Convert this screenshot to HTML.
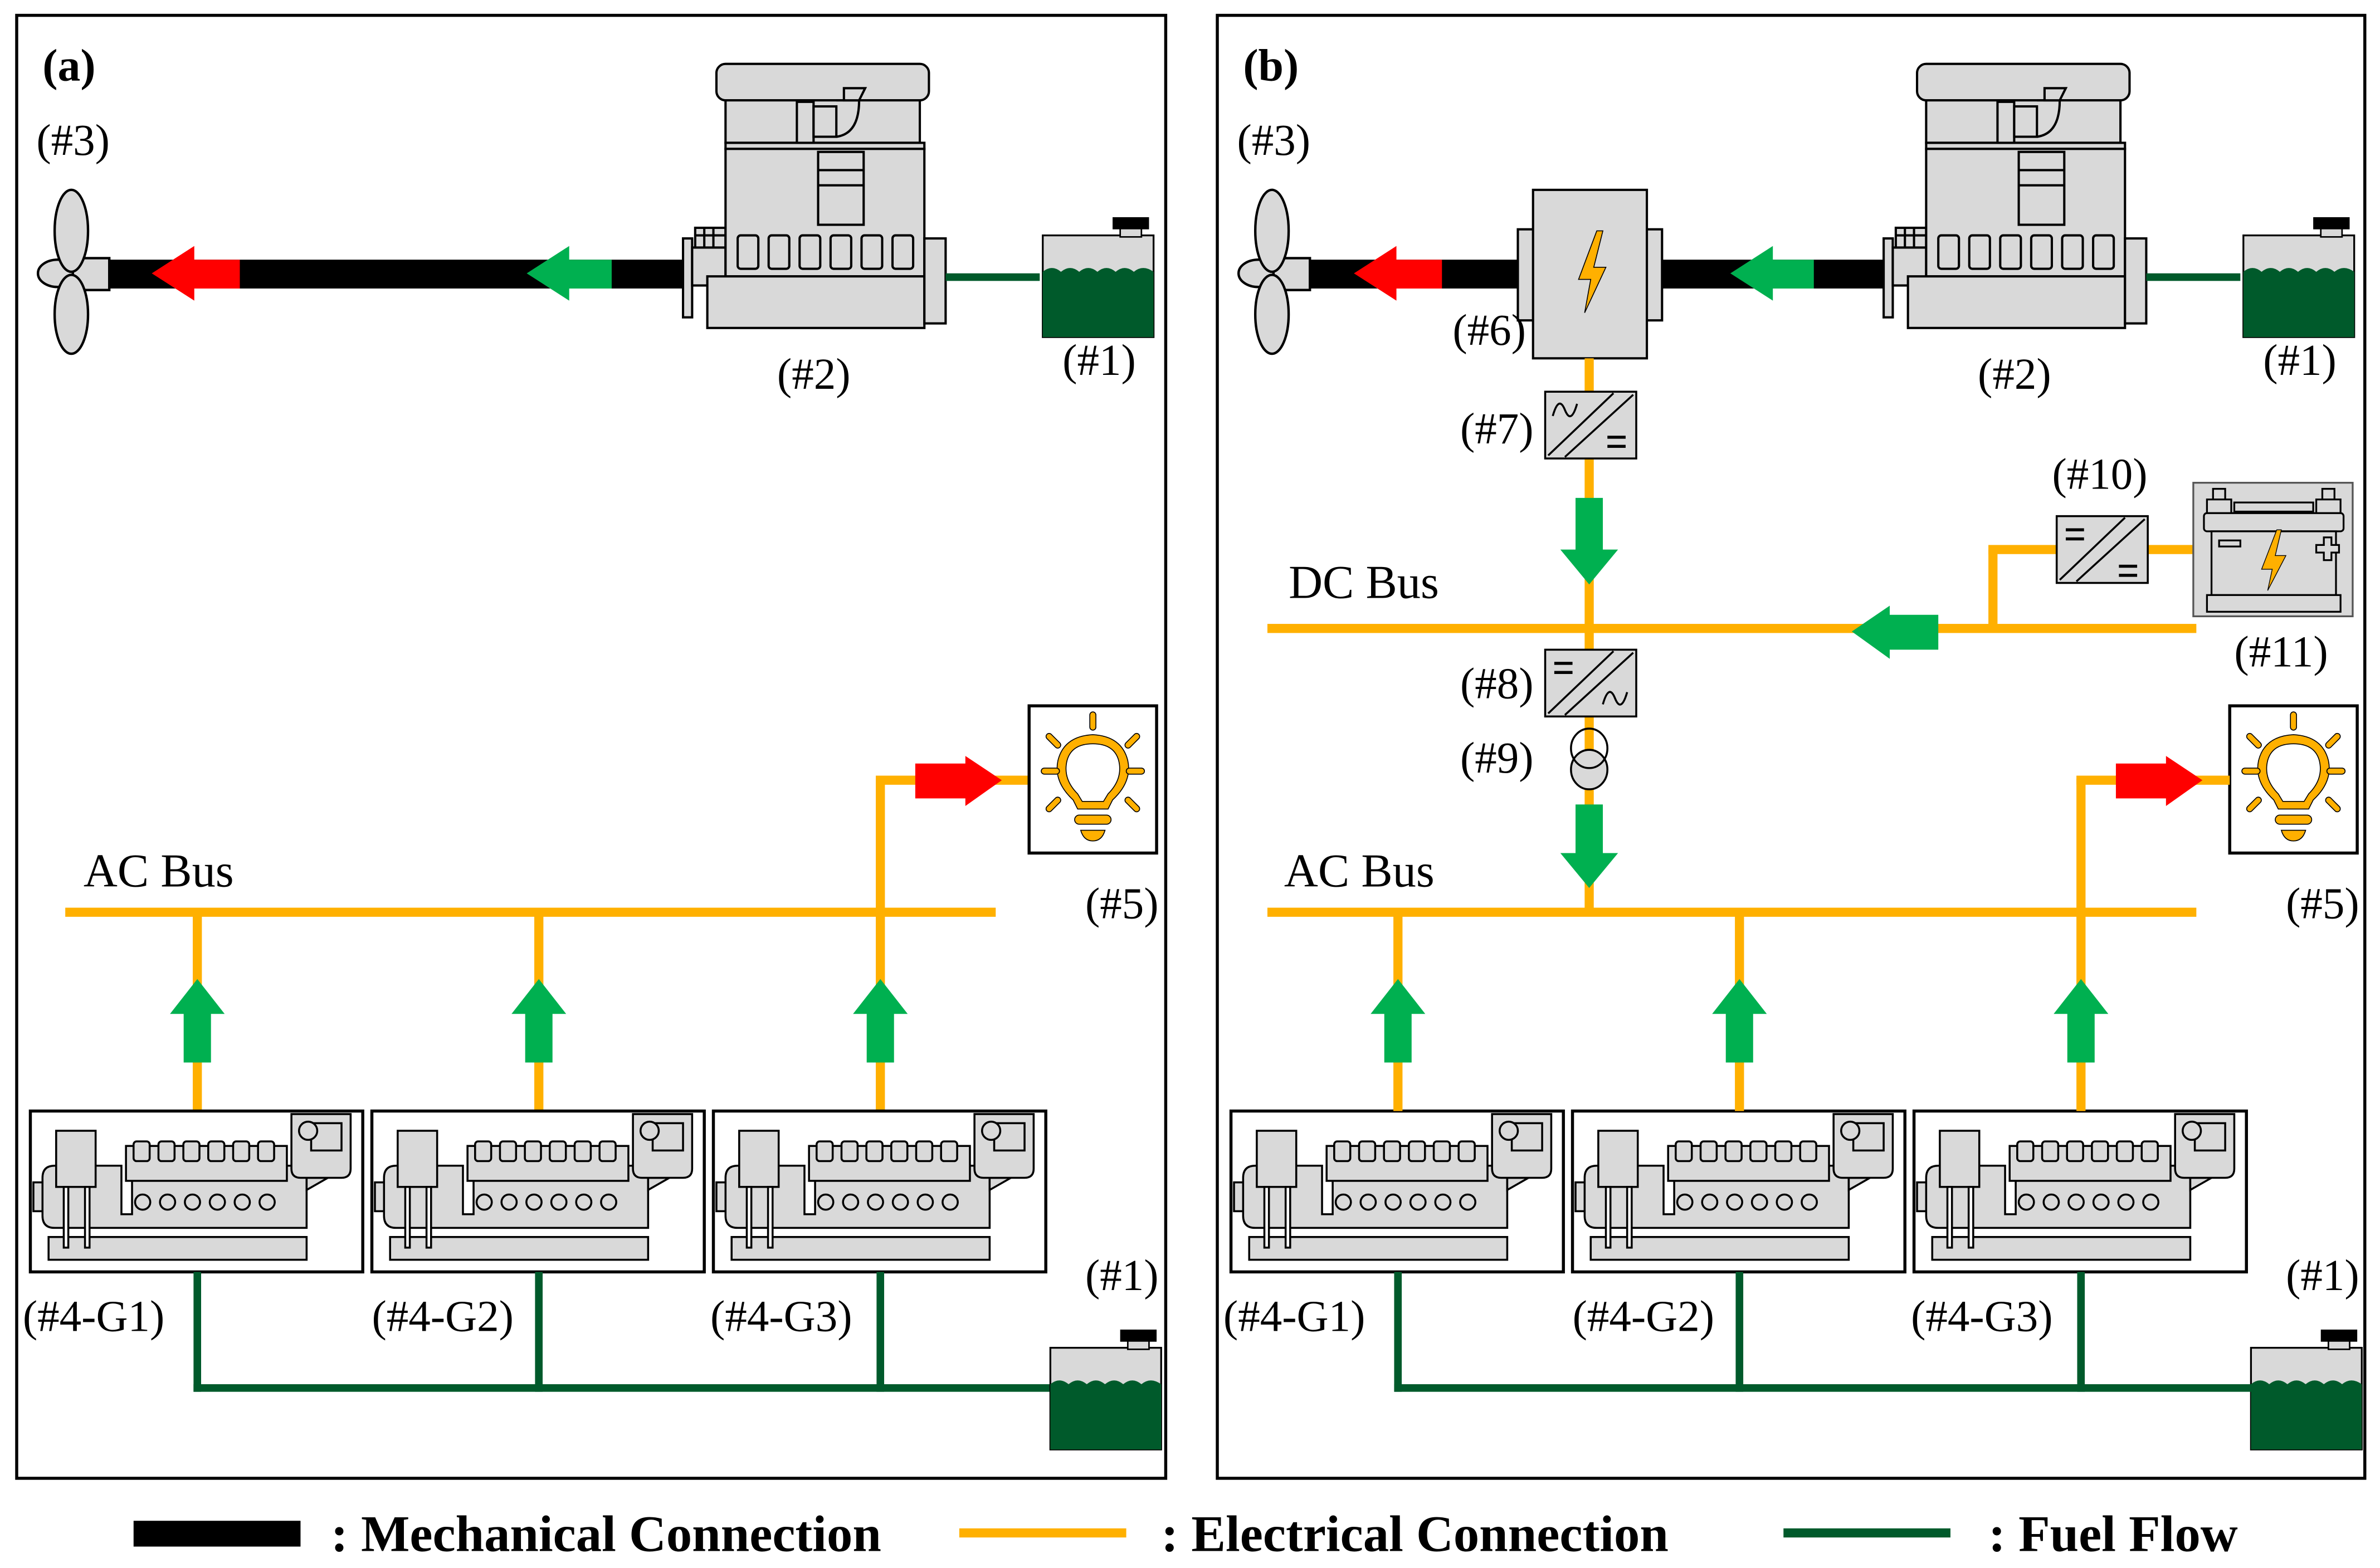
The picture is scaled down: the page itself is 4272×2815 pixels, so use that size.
<!DOCTYPE html>
<html><head><meta charset="utf-8">
<style>
html,body{margin:0;padding:0;background:#fff;}
svg{display:block;}
text{font-family:"Liberation Serif",serif;fill:#000;}
</style></head>
<body>
<svg width="4272" height="2815" viewBox="0 0 1568 1033" xmlns="http://www.w3.org/2000/svg">
<defs>
  <g id="prop" stroke="#000" stroke-width="1.6" fill="#d9d9d9">
    <ellipse cx="38" cy="180" rx="13" ry="9"/>
    <rect x="48" y="170" width="24" height="21"/>
    <ellipse cx="47" cy="152" rx="11" ry="27"/>
    <ellipse cx="47" cy="207" rx="11" ry="26"/>
  </g>
  <g id="engine" stroke="#000" stroke-width="1.5" fill="#d9d9d9">
    <rect x="450" y="157" width="6" height="52"/>
    <rect x="456" y="163" width="22" height="25"/>
    <rect x="458" y="150" width="20" height="13"/>
    <line x1="464" y1="150" x2="464" y2="163"/><line x1="470" y1="150" x2="470" y2="163"/>
    <line x1="458" y1="155" x2="478" y2="155"/>
    <rect x="472" y="42" width="140" height="24" rx="6"/>
    <rect x="478" y="66" width="128" height="28"/>
    <rect x="478" y="94" width="131" height="4"/>
    <rect x="478" y="98" width="131" height="84"/>
    <rect x="525" y="67" width="11" height="27"/>
    <rect x="536" y="70" width="15" height="20"/>
    <path d="M551 66 L566 66 Q566 88 551 90" fill="none"/>
    <path d="M556 58 L570 58 L566 66 L556 66 Z"/>
    <rect x="539" y="100" width="30" height="48"/>
    <line x1="539" y1="112" x2="569" y2="112"/><line x1="539" y1="122" x2="569" y2="122"/>
    <rect x="486" y="155" width="13.6" height="22" rx="2"/>
    <rect x="506.4" y="155" width="13.6" height="22" rx="2"/>
    <rect x="526.8" y="155" width="13.6" height="22" rx="2"/>
    <rect x="547.2" y="155" width="13.6" height="22" rx="2"/>
    <rect x="567.6" y="155" width="13.6" height="22" rx="2"/>
    <rect x="588" y="155" width="13.6" height="22" rx="2"/>
    <rect x="466" y="182" width="143" height="34"/>
    <rect x="609" y="157" width="14" height="56"/>
  </g>
  <g id="tank">
    <rect x="0" y="12" width="73" height="67" fill="#d9d9d9" stroke="#000" stroke-width="1.2"/>
    <rect x="51" y="3" width="14" height="10" fill="#d9d9d9" stroke="#000" stroke-width="1"/>
    <rect x="46" y="0" width="24" height="8" fill="#000"/>
    <path d="M0 36 Q6 31 12 36 Q18 31 24 36 Q30 31 36 36 Q42 31 48 36 Q54 31 60 36 Q66 31 73 36 L73 79 L0 79 Z" fill="#005a2b"/>
  </g>
  <g id="gen" stroke="#000" stroke-width="1.3" fill="#d9d9d9">
    <rect x="0" y="0" width="219" height="106" fill="#fff" stroke-width="2"/>
    <rect x="2" y="47" width="7" height="19"/>
    <path d="M8 44 Q8 36 16 36 L60 36 L60 68 L67 68 L67 36 L182 36 L182 77 L16 77 Q8 77 8 69 Z"/>
    <rect x="63" y="23" width="106" height="23"/>
    <rect x="68" y="20" width="10.6" height="13" rx="2"/>
    <rect x="84.4" y="20" width="10.6" height="13" rx="2"/>
    <rect x="100.8" y="20" width="10.6" height="13" rx="2"/>
    <rect x="117.2" y="20" width="10.6" height="13" rx="2"/>
    <rect x="133.6" y="20" width="10.6" height="13" rx="2"/>
    <rect x="150" y="20" width="10.6" height="13" rx="2"/>
    <circle cx="74" cy="60" r="5"/><circle cx="90.4" cy="60" r="5"/><circle cx="106.8" cy="60" r="5"/>
    <circle cx="123.2" cy="60" r="5"/><circle cx="139.6" cy="60" r="5"/><circle cx="156" cy="60" r="5"/>
    <path d="M182 52 L196 44 L182 44 Z"/>
    <path d="M172 2 L211 2 L211 38 Q211 44 205 44 L178 44 Q172 44 172 38 Z"/>
    <rect x="185" y="8" width="20" height="18" fill="#d9d9d9"/>
    <circle cx="183" cy="13" r="6"/>
    <rect x="12" y="83" width="170" height="15"/>
    <rect x="17" y="13" width="26" height="37"/>
    <rect x="22" y="50" width="3" height="40" fill="#fff"/>
    <rect x="36" y="50" width="3" height="40" fill="#fff"/>
  </g>
  <g id="bulb">
    <rect x="0" y="0" width="84" height="97" fill="#fff" stroke="#000" stroke-width="2"/>
    <g stroke="#000" stroke-width="0.6" fill="#ffb000">
      <path d="M29 62 Q16 50 19 36 Q23 20 42 19 Q61 20 65 36 Q68 50 55 62 L52 68 L32 68 Z M35 63 L49 63 L52 58 Q62 48 59 36 Q56 25 42 25 Q28 25 25 36 Q22 48 32 58 Z" fill-rule="evenodd"/>
      <rect x="30" y="72" width="24" height="6" rx="3"/>
      <path d="M34 82 L50 82 Q48 89 42 89 Q36 89 34 82 Z"/>
      <rect x="40" y="4" width="4" height="12" rx="2"/>
      <rect x="8" y="41" width="12" height="4" rx="2"/>
      <rect x="64" y="41" width="12" height="4" rx="2"/>
      <rect x="14" y="17" width="4" height="12" rx="2" transform="rotate(-45 16 23)"/>
      <rect x="66" y="17" width="4" height="12" rx="2" transform="rotate(45 68 23)"/>
      <rect x="14" y="59" width="4" height="12" rx="2" transform="rotate(45 16 65)"/>
      <rect x="66" y="59" width="4" height="12" rx="2" transform="rotate(-45 68 65)"/>
    </g>
  </g>
  <g id="conv" stroke="#000" stroke-width="1.3" fill="#d9d9d9">
    <rect x="0" y="0" width="60" height="44"/>
    <line x1="2" y1="42" x2="45" y2="1"/>
    <line x1="13" y1="43" x2="58" y2="2"/>
  </g>
</defs>

<rect x="11" y="10" width="757" height="964" fill="none" stroke="#000" stroke-width="2"/>
<rect x="802" y="10" width="756" height="964" fill="none" stroke="#000" stroke-width="2"/>

<text x="28" y="53" font-size="30" font-weight="bold">(a)</text>
<text x="819" y="53" font-size="30" font-weight="bold">(b)</text>

<!-- ===== Panel a ===== -->
<text x="24" y="102" font-size="29">(#3)</text>
<rect x="70" y="171" width="385" height="19" fill="#000"/>
<use href="#prop"/>
<polygon points="100,180 128,162 128,171 158,171 158,190 128,190 128,198" fill="#ff0000"/>
<polygon points="347,180 375,162 375,171 403,171 403,190 375,190 375,198" fill="#00b050"/>
<use href="#engine"/>
<rect x="623" y="180" width="62" height="5" fill="#005a2b"/>
<use href="#tank" transform="translate(687,143)"/>
<text x="512" y="256" font-size="29">(#2)</text>
<text x="700" y="247" font-size="29">(#1)</text>

<text x="55" y="584" font-size="31">AC Bus</text>
<g fill="#ffb000">
<rect x="43" y="598" width="613" height="6"/>
<rect x="127" y="601" width="6" height="131"/>
<rect x="352" y="601" width="6" height="131"/>
<rect x="577" y="513" width="6" height="219"/>
<rect x="577" y="511" width="30" height="6"/>
<rect x="655" y="511" width="23" height="6"/>
</g>
<polygon points="660,514 636,498 636,503 603,503 603,526 636,526 636,531" fill="#ff0000"/>
<g fill="#00b050">
<polygon points="130,645 148,668 139,668 139,700 121,700 121,668 112,668"/>
<polygon points="355,645 373,668 364,668 364,700 346,700 346,668 337,668"/>
<polygon points="580,645 598,668 589,668 589,700 571,700 571,668 562,668"/>
</g>
<use href="#bulb" transform="translate(678,465)"/>
<text x="715" y="605" font-size="29">(#5)</text>
<use href="#gen" transform="translate(20,732)"/>
<use href="#gen" transform="translate(245,732)"/>
<use href="#gen" transform="translate(470,732)"/>
<g fill="#005a2b">
<rect x="127.5" y="838" width="5" height="79"/>
<rect x="352.5" y="838" width="5" height="79"/>
<rect x="577.5" y="838" width="5" height="79"/>
<rect x="127.5" y="912" width="566" height="5"/>
</g>
<use href="#tank" transform="translate(692,876)"/>
<text x="715" y="850" font-size="29">(#1)</text>
<text x="15" y="877" font-size="29">(#4-G1)</text>
<text x="245" y="877" font-size="29">(#4-G2)</text>
<text x="468" y="877" font-size="29">(#4-G3)</text>

<!-- ===== Panel b ===== -->
<g transform="translate(791,0)">
<text x="24" y="102" font-size="29">(#3)</text>
<rect x="70" y="171" width="385" height="19" fill="#000"/>
<use href="#prop"/>
<use href="#engine"/>
<rect x="623" y="180" width="62" height="5" fill="#005a2b"/>
<use href="#tank" transform="translate(687,143)"/>
<text x="512" y="256" font-size="29">(#2)</text>
<text x="700" y="247" font-size="29">(#1)</text>
<use href="#bulb" transform="translate(678,465)"/>
<text x="715" y="605" font-size="29">(#5)</text>
<use href="#gen" transform="translate(20,732)"/>
<use href="#gen" transform="translate(245,732)"/>
<use href="#gen" transform="translate(470,732)"/>
<use href="#tank" transform="translate(692,876)"/>
<text x="715" y="850" font-size="29">(#1)</text>
<text x="15" y="877" font-size="29">(#4-G1)</text>
<text x="245" y="877" font-size="29">(#4-G2)</text>
<text x="468" y="877" font-size="29">(#4-G3)</text>
</g>
<polygon points="892,180 920,162 920,171 950,171 950,190 920,190 920,198" fill="#ff0000"/>
<polygon points="1140,180 1168,162 1168,171 1195,171 1195,190 1168,190 1168,198" fill="#00b050"/>
<g stroke="#000" stroke-width="1.5" fill="#d9d9d9">
<rect x="1000" y="151" width="11" height="60"/>
<rect x="1084" y="151" width="11" height="60"/>
<rect x="1010" y="125" width="75" height="111"/>
</g>
<polygon points="1052,152 1040,184 1048,184 1044,206 1058,176 1050,176 1056,152" fill="#ffb000" stroke="#000" stroke-width="0.6"/>
<text x="957" y="227" font-size="29">(#6)</text>

<g fill="#ffb000">
<rect x="1044" y="236" width="6" height="365"/>
<rect x="835" y="411" width="612" height="6"/>
<rect x="1310" y="362" width="6" height="52"/>
<rect x="1310" y="359" width="46" height="6"/>
<rect x="1414" y="359" width="32" height="6"/>
<rect x="835" y="598" width="612" height="6"/>
<rect x="918" y="601" width="6" height="131"/>
<rect x="1143" y="601" width="6" height="131"/>
<rect x="1368" y="513" width="6" height="219"/>
<rect x="1368" y="511" width="30" height="6"/>
<rect x="1446" y="511" width="23" height="6"/>
</g>
<polygon points="1451,514 1427,498 1427,503 1394,503 1394,526 1427,526 1427,531" fill="#ff0000"/>
<g fill="#00b050">
<polygon points="921,645 939,668 930,668 930,700 912,700 912,668 903,668"/>
<polygon points="1146,645 1164,668 1155,668 1155,700 1137,700 1137,668 1128,668"/>
<polygon points="1371,645 1389,668 1380,668 1380,700 1362,700 1362,668 1353,668"/>
<polygon points="1047,385 1066,362 1056,362 1056,328 1038,328 1038,362 1028,362"/>
<polygon points="1047,585 1066,562 1056,562 1056,530 1038,530 1038,562 1028,562"/>
<polygon points="1220,416 1245,399 1245,405 1277,405 1277,428 1245,428 1245,434"/>
</g>
<g fill="#005a2b">
<rect x="918.5" y="838" width="5" height="79"/>
<rect x="1143.5" y="838" width="5" height="79"/>
<rect x="1368.5" y="838" width="5" height="79"/>
<rect x="918.5" y="912" width="566" height="5"/>
</g>

<use href="#conv" transform="translate(1018,258)"/>
<path d="M1023 274 Q1027 260 1031 270 Q1035 280 1039 266" fill="none" stroke="#000" stroke-width="1.3"/>
<g fill="#000"><rect x="1059" y="287" width="12" height="2"/><rect x="1059" y="293" width="12" height="2"/></g>
<text x="962" y="292" font-size="29">(#7)</text>

<use href="#conv" transform="translate(1018,428)"/>
<g fill="#000"><rect x="1024" y="436" width="12" height="2"/><rect x="1024" y="442" width="12" height="2"/></g>
<path d="M1056 464 Q1060 450 1064 460 Q1068 470 1072 456" fill="none" stroke="#000" stroke-width="1.3"/>
<text x="962" y="460" font-size="29">(#8)</text>

<use href="#conv" transform="translate(1355,340)"/>
<g fill="#000"><rect x="1361" y="348" width="12" height="2"/><rect x="1361" y="354" width="12" height="2"/>
<rect x="1396" y="372" width="12" height="2"/><rect x="1396" y="378" width="12" height="2"/></g>
<text x="1352" y="322" font-size="29">(#10)</text>

<g fill="#d9d9d9" stroke="#000" stroke-width="1.3">
<ellipse cx="1047" cy="507" rx="12" ry="13"/>
<ellipse cx="1047" cy="493" rx="12" ry="13" fill="none"/>
</g>
<text x="962" y="509" font-size="29">(#9)</text>

<text x="849" y="394" font-size="31">DC Bus</text>
<text x="846" y="584" font-size="31">AC Bus</text>

<g stroke="#000" stroke-width="1.2" fill="#d9d9d9">
<rect x="1445" y="318" width="105" height="88" stroke="#555"/>
<rect x="1458" y="322" width="8" height="7"/>
<rect x="1530" y="322" width="8" height="7"/>
<rect x="1454" y="329" width="16" height="9"/>
<rect x="1526" y="329" width="16" height="9"/>
<rect x="1472" y="331" width="52" height="6"/>
<rect x="1452" y="338" width="92" height="12" rx="2"/>
<rect x="1457" y="350" width="82" height="42"/>
<rect x="1454" y="392" width="88" height="11"/>
<rect x="1462" y="356" width="14" height="4"/>
<path d="M1531 354 h5 v5 h5 v5 h-5 v5 h-5 v-5 h-5 v-5 h5 z"/>
</g>
<polygon points="1500,349 1490,375 1497,375 1494,389 1506,366 1499,366 1503,349" fill="#ffb000" stroke="#000" stroke-width="0.5"/>
<text x="1472" y="439" font-size="29">(#11)</text>

<rect x="88" y="1002" width="110" height="17" fill="#000"/>
<text x="218" y="1022" font-size="34" font-weight="bold">: Mechanical Connection</text>
<rect x="632" y="1007" width="110" height="6" fill="#ffb000"/>
<text x="765" y="1022" font-size="34" font-weight="bold">: Electrical Connection</text>
<rect x="1175" y="1007" width="110" height="6" fill="#005a2b"/>
<text x="1310" y="1022" font-size="34" font-weight="bold">: Fuel Flow</text>
</svg>
</body></html>
